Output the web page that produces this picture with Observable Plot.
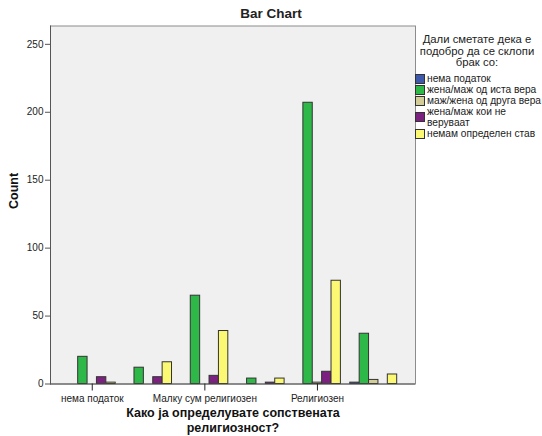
<!DOCTYPE html>
<html><head><meta charset="utf-8">
<script src="https://cdn.jsdelivr.net/npm/d3@7"></script>
<script src="https://cdn.jsdelivr.net/npm/@observablehq/plot@0.6"></script>
<style>
body{margin:0;background:#fff;font-family:"Liberation Sans",Arial,sans-serif;color:#222;}
#wrap{position:relative;width:542px;height:436px;}
#chart{position:absolute;left:0;top:0;}
#title{position:absolute;left:0;width:542px;top:6px;text-align:center;font-weight:bold;font-size:13.5px;line-height:16px;}
#legend{position:absolute;left:415px;top:34px;width:127px;}
#legend .lt{width:124px;text-align:center;font-size:11.3px;line-height:11.7px;}
#legend .items{margin-top:4px;}
#legend .it{display:flex;align-items:center;font-size:10.2px;line-height:11px;}
#legend .sw{width:8px;height:8px;border:1px solid #333;margin-right:2px;flex:none;}
#legend .tx{white-space:pre;}
</style></head><body>
<div id="wrap"><div id="chart"></div><div id="title">Bar Chart</div><div id="legend"></div></div>
<script>
const categories = ["нема податок", "Не сум религиозен", "Малку сум религиозен", "Делумно религиозен", "Религиозен", "Многу религиозен"];
const labeledCategories = ["нема податок", "Малку сум религиозен", "Религиозен"];
const series = ["нема податок", "жена/маж од иста вера", "маж/жена од друга вера", "жена/маж кои не веруваат", "немам определен став"];
const legendLabels = ["нема податок", "жена/маж од иста вера", "маж/жена од друга вера", "жена/маж кои не\nверуваат", "немам определен став"];
const colors = ["#3E58AC", "#2EB848", "#D3CE97", "#7B2281", "#FBF873"];
const noData = [0, 0, 0, 0, 0, 1];
const sameFaith = [20, 12, 65, 4, 207, 37];
const otherFaith = [0, 0, 0, 0, 1, 3];
const nonBelievers = [5, 5, 6, 1, 9, 0];
const undecided = [1, 16, 39, 4, 76, 7];
const yTicks = [0, 50, 100, 150, 200, 250];
const legendTitle = "Дали сметате дека е\nподобро да се склопи\nбрак со:";
const xTitle = "Како ја определувате сопствената\nрелигиозност?";
const yTitle = "Count";

const valuesBySeries = [noData, sameFaith, otherFaith, nonBelievers, undecided];
const data = [];
categories.forEach((c, i) => series.forEach((s, j) =>
  data.push({category: c, series: s, key: c + "|" + s, value: valuesBySeries[j][i]})));
const xDomain = [];
categories.forEach((c, i) => {
  if (i > 0) xDomain.push("gap" + i);
  series.forEach(s => xDomain.push(c + "|" + s));
});
const xTickKeys = labeledCategories.map(c => c + "|" + series[2]);

const chart = Plot.plot({
  width: 542, height: 436,
  marginLeft: 50, marginRight: 127, marginTop: 25.5, marginBottom: 52.5,
  style: {fontFamily: "Liberation Sans, Arial, sans-serif", fontSize: "10px", color: "#222", background: "transparent", overflow: "visible"},
  x: {domain: xDomain, paddingInner: 0, paddingOuter: 1.95, round: false, axis: null},
  y: {domain: [0, 263.5], axis: null},
  color: {domain: series, range: colors},
  marks: [
    Plot.frame({fill: "#F0F0F0", stroke: "#8c8c8c"}),
    Plot.barY(data.filter(d => d.value > 0), {x: "key", y: "value", fill: "series", stroke: "#333", strokeWidth: 1, inset: 0}),
    Plot.ruleY([0], {stroke: "#555"}),
    Plot.frame({anchor: "left", stroke: "#555"}),
    Plot.axisY(yTicks, {tickSize: 5, tickPadding: 2, label: null, stroke: "#555"}),
    Plot.axisX(xTickKeys, {tickSize: 7, tickPadding: 4, tickFormat: d => d.split("|")[0], label: null, stroke: "#222"}),
    Plot.text([yTitle], {frameAnchor: "left", rotate: -90, dx: -37, dy: 4, fontWeight: "bold", fontSize: 12.5, fill: "#111"}),
    Plot.text([xTitle], {frameAnchor: "bottom", lineAnchor: "top", dy: 22, fontWeight: "bold", fontSize: 12.5, lineHeight: 1.2, fill: "#111"})
  ]
});
document.getElementById("chart").appendChild(chart);

const lg = document.getElementById("legend");
const t = document.createElement("div");
t.className = "lt";
t.innerHTML = legendTitle.split("\n").map(s => s.replace(/&/g, "&amp;")).join("<br>");
lg.appendChild(t);
const items = document.createElement("div");
items.className = "items";
series.forEach((s, i) => {
  const it = document.createElement("div");
  it.className = "it";
  const sw = document.createElement("div");
  sw.className = "sw";
  sw.style.background = colors[i];
  const tx = document.createElement("div");
  tx.className = "tx";
  tx.textContent = legendLabels[i];
  it.appendChild(sw); it.appendChild(tx);
  items.appendChild(it);
});
lg.appendChild(items);
</script>
</body></html>
